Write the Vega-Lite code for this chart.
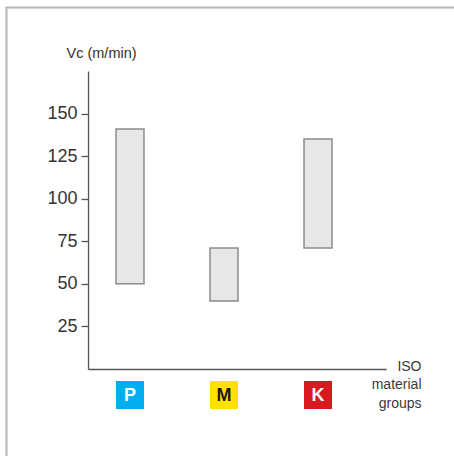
{
  "$schema": "https://vega.github.io/schema/vega-lite/v6.json",
  "width": 298,
  "height": 298,
  "autosize": {"type": "none"},
  "padding": {"left": 88, "top": 71, "right": 68, "bottom": 87},
  "background": "white",
  "config": {"view": {"stroke": null}, "font": "Liberation Sans"},
  "data": {"values": [
    {"group": "P", "idx": 1, "min": 50, "max": 141},
    {"group": "M", "idx": 2, "min": 40, "max": 71},
    {"group": "K", "idx": 3, "min": 71, "max": 135}
  ]},
  "encoding": {
    "x": {"field": "idx", "type": "quantitative",
      "scale": {"domain": [0.5532, 3.7234], "nice": false, "zero": false, "padding": 0},
      "axis": {"domain": true, "domainColor": "#555555", "domainWidth": 1.3, "ticks": false, "labels": false, "grid": false,
        "title": ["ISO", "material", "groups"], "titleFont": "Liberation Sans", "titleFontSize": 14, "titleFontWeight": "normal",
        "titleColor": "#3a3a3a", "titleAlign": "right", "titleAnchor": null, "titleX": 333, "titleY": 1, "titleBaseline": "alphabetic", "titleLineHeight": 18.5}},
    "y": {"type": "quantitative", "scale": {"domain": [0, 175], "nice": false, "padding": 0}}
  },
  "layer": [
    {
      "mark": {"type": "rect", "clip": false, "fill": null, "filled": false, "stroke": "#bbbbbb", "strokeWidth": 1.5},
      "encoding": {
        "x": {"datum": -0.3138, "type": "quantitative"},
        "x2": {"datum": 6},
        "y": {"datum": 212.3, "type": "quantitative"},
        "y2": {"datum": -80}
      }
    },
    {
      "mark": {"type": "bar", "size": 28, "fill": "#e6e7e9", "stroke": "#8c8c8c", "strokeWidth": 1.5},
      "encoding": {
        "y": {"field": "min", "type": "quantitative",
          "axis": {"values": [25, 50, 75, 100, 125, 150], "domainColor": "#555555", "domainWidth": 1.3, "tickColor": "#555555", "tickWidth": 1.3,
            "tickSize": 7, "labelPadding": 4, "labelFont": "Liberation Sans", "labelFontSize": 18, "labelColor": "#333333", "grid": false,
            "title": "Vc (m/min)", "titleFont": "Liberation Sans", "titleFontSize": 14.5, "titleFontWeight": "normal", "titleColor": "#333333",
            "titleAngle": 0, "titleAlign": "left", "titleAnchor": null, "titleX": -22, "titleY": -14, "titleBaseline": "alphabetic"}},
        "y2": {"field": "max"}
      }
    },
    {
      "mark": {"type": "point", "shape": "square", "size": 784, "filled": true, "opacity": 1, "clip": false, "yOffset": 26, "strokeWidth": 0},
      "encoding": {
        "y": {"datum": 0, "type": "quantitative"},
        "color": {"field": "group", "type": "nominal", "legend": null,
          "scale": {"domain": ["P", "M", "K"], "range": ["#00aeef", "#ffe100", "#d81920"]}}
      }
    },
    {
      "mark": {"type": "text", "font": "Liberation Sans", "fontWeight": "bold", "fontSize": 18, "baseline": "middle", "align": "center", "yOffset": 27, "clip": false},
      "encoding": {
        "y": {"datum": 0, "type": "quantitative"},
        "text": {"field": "group"},
        "color": {"field": "group", "type": "nominal", "legend": null,
          "scale": {"domain": ["P", "M", "K"], "range": ["#ffffff", "#1a1a1a", "#ffffff"]}}
      }
    }
  ],
  "resolve": {"scale": {"color": "independent"}}
}
